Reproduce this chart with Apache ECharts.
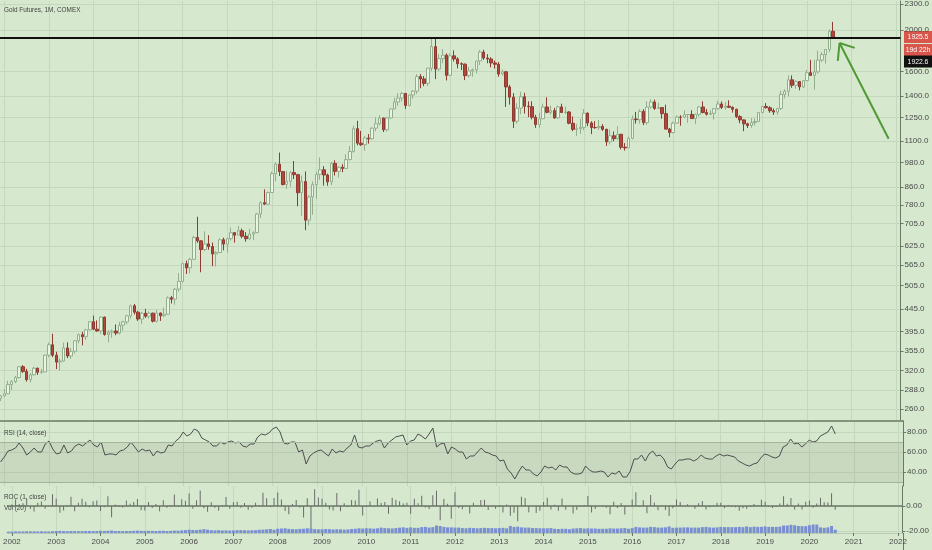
<!DOCTYPE html>
<html><head><meta charset="utf-8">
<script src="https://cdn.jsdelivr.net/npm/echarts@6/dist/echarts.min.js"></script>
<style>html,body{margin:0;padding:0;background:#d6e9cf}#c{width:932px;height:550px}</style>
</head><body><div id="c"></div>
<script>
// ---- data: monthly candles, Dec 2001 .. Aug 2020 ----
const startYear = 2001, startMonth = 12;
const open = [
275.5,
279.0,282.3,296.9,301.4,308.2,326.6,318.5,304.7,312.8,324.0,316.9,317.7,
347.6,367.5,347.5,334.9,336.8,361.4,346.0,354.8,375.6,388.0,383.8,398.4,
416.1,399.8,395.9,426.5,388.5,393.3,395.8,391.4,408.3,415.7,429.4,453.4,
438.0,422.2,435.5,428.6,435.7,417.3,436.1,429.7,433.3,473.2,469.9,495.7,
517.0,568.8,556.0,582.0,654.5,643.0,613.5,632.5,623.5,599.3,603.8,646.7,
632.0,650.5,672.0,663.0,679.0,659.1,650.5,666.9,672.0,743.0,789.5,783.5,
833.8,923.3,971.5,933.5,871.0,885.8,928.3,918.0,833.0,884.5,718.8,814.5,
869.8,919.5,942.5,916.5,883.3,975.5,934.5,955.5,949.5,995.8,1040.0,1175.8,
1087.5,1078.5,1118.3,1113.3,1179.3,1207.5,1245.5,1169.0,1246.0,1307.8,1357.6,1386.1,
1421.4,1332.8,1409.3,1439.0,1556.0,1536.6,1500.4,1628.3,1828.5,1620.4,1714.0,1746.4,
1566.8,1740.0,1711.3,1668.0,1664.0,1564.2,1604.2,1614.2,1692.6,1776.0,1719.4,1711.1,
1674.8,1663.0,1578.1,1597.0,1472.2,1393.0,1223.7,1313.3,1396.1,1327.0,1323.6,1250.6,
1202.3,1240.1,1321.6,1283.8,1295.9,1246.0,1322.0,1282.9,1286.5,1210.5,1171.6,1175.4,
1184.1,1278.5,1212.8,1183.1,1182.4,1189.4,1171.9,1095.4,1132.0,1114.0,1141.2,1064.2,
1060.3,1116.4,1238.8,1234.2,1290.5,1214.8,1320.6,1357.5,1311.4,1317.1,1274.9,1173.3,
1151.7,1211.7,1251.3,1251.2,1268.3,1268.9,1241.6,1270.1,1321.4,1283.1,1271.1,1276.7,
1309.3,1343.1,1318.3,1327.3,1319.2,1305.4,1254.5,1232.6,1206.7,1196.2,1214.8,1222.1,
1282.5,1325.2,1316.1,1295.4,1285.7,1311.1,1413.7,1437.8,1529.4,1485.3,1514.8,1472.8,
1523.1,1589.2,1566.7,1596.6,1700.9,1751.7,1800.5,1985.9
];
const high = [
280.5,
289.5,303.0,304.0,311.0,327.5,329.5,323.0,315.5,326.5,325.0,323.0,349.0,
372.0,390.0,354.0,341.0,372.0,372.5,361.0,377.0,390.5,394.0,400.5,417.0,
430.0,419.0,428.0,428.0,397.5,399.0,410.0,416.0,418.0,432.0,456.5,458.0,
441.0,438.5,446.0,440.0,437.0,443.5,437.0,449.0,477.0,478.0,499.0,541.0,
572.0,578.0,587.0,660.0,732.0,645.0,677.0,663.0,637.0,609.0,652.0,654.0,
654.0,691.0,674.0,697.0,687.0,674.0,686.0,677.0,747.0,795.0,848.0,838.0,
933.0,979.0,1033.9,935.0,937.0,937.0,988.0,922.0,914.0,934.0,823.0,885.0,
932.0,1007.0,961.0,923.0,983.0,992.0,960.0,971.0,1025.0,1072.0,1196.0,1227.0,
1162.0,1130.0,1142.0,1183.0,1250.0,1265.0,1248.0,1253.0,1310.0,1388.0,1424.0,1432.0,
1424.0,1415.0,1447.0,1577.0,1577.0,1560.0,1632.0,1911.6,1923.7,1755.0,1804.0,1764.0,
1764.0,1792.0,1727.0,1680.0,1670.0,1640.0,1628.0,1695.0,1795.0,1798.0,1756.0,1727.0,
1697.0,1684.0,1617.0,1605.0,1488.0,1424.0,1348.0,1434.0,1426.0,1362.0,1362.0,1267.0,
1280.0,1345.0,1392.0,1331.0,1315.0,1332.0,1345.0,1325.0,1292.0,1256.0,1207.0,1239.0,
1307.0,1284.0,1224.0,1225.0,1233.0,1205.0,1175.0,1171.0,1159.0,1191.0,1142.0,1088.0,
1127.0,1263.0,1287.0,1306.0,1306.0,1362.0,1377.0,1375.0,1352.0,1318.0,1338.0,1180.0,
1222.0,1264.0,1264.0,1297.0,1272.0,1298.0,1276.0,1327.0,1362.0,1307.0,1299.0,1312.0,
1366.0,1361.0,1356.0,1370.0,1326.0,1309.0,1265.0,1237.0,1214.0,1245.0,1243.0,1286.0,
1330.0,1349.0,1327.0,1311.0,1315.0,1442.0,1453.0,1566.0,1566.0,1526.0,1519.0,1525.0,
1613.0,1703.0,1704.0,1788.0,1775.0,1802.0,2005.0,2089.2
];
const low = [
271.5,
277.5,282.0,288.0,299.0,306.5,316.0,301.5,300.0,311.5,312.5,314.5,317.0,
343.5,344.0,322.5,319.5,335.5,342.0,340.5,350.5,370.5,366.5,377.0,397.0,
398.0,394.5,389.5,386.0,372.5,382.0,387.0,388.5,396.5,410.5,423.0,432.5,
418.0,411.5,424.5,423.0,414.5,414.0,418.0,426.5,433.0,459.0,456.0,489.0,
513.5,538.0,540.0,580.0,636.0,543.0,608.0,613.0,561.0,560.0,602.0,611.0,
603.0,644.0,637.0,662.0,652.0,640.0,646.0,645.0,670.0,727.0,780.0,782.0,
833.0,886.0,912.0,866.0,850.0,860.0,897.0,775.0,736.0,681.0,699.0,740.0,
806.0,893.0,866.0,865.0,868.0,914.0,904.0,930.0,948.0,990.0,1033.0,1075.0,
1072.0,1044.0,1085.0,1109.0,1160.0,1198.0,1155.0,1158.0,1242.0,1305.0,1331.0,1360.0,
1308.0,1325.0,1381.0,1417.0,1462.0,1478.0,1478.0,1603.0,1535.0,1602.0,1671.0,1523.9,
1563.0,1688.0,1627.0,1612.0,1527.0,1548.0,1555.0,1583.0,1656.0,1703.0,1672.0,1636.0,
1625.0,1555.0,1565.0,1321.5,1338.0,1180.0,1208.0,1271.0,1276.0,1251.0,1236.0,1181.0,
1182.0,1238.0,1277.0,1268.0,1240.0,1240.0,1281.0,1273.0,1204.0,1160.0,1131.0,1142.0,
1167.0,1191.0,1142.0,1175.0,1169.0,1162.0,1072.0,1080.0,1098.0,1107.0,1052.0,1045.0,
1060.0,1110.0,1208.0,1208.0,1199.0,1200.0,1310.0,1301.0,1306.0,1241.0,1171.0,1123.0,
1146.0,1208.0,1195.0,1244.0,1214.0,1240.0,1205.0,1256.0,1277.0,1262.0,1264.0,1236.0,
1303.0,1307.0,1303.0,1315.0,1282.0,1245.0,1211.0,1160.0,1180.0,1182.0,1196.0,1221.0,
1277.0,1311.0,1281.0,1266.0,1267.0,1300.0,1384.0,1400.0,1465.0,1459.0,1445.0,1462.0,
1519.0,1561.0,1451.0,1583.0,1683.0,1670.0,1776.0,1911.0
];
const close = [
279.0,
282.3,296.9,301.4,308.2,326.6,318.5,304.7,312.8,324.0,316.9,317.7,347.6,
367.5,347.5,334.9,336.8,361.4,346.0,354.8,375.6,388.0,383.8,398.4,416.1,
399.8,395.9,426.5,388.5,393.3,395.8,391.4,408.3,415.7,429.4,453.4,438.0,
422.2,435.5,428.6,435.7,417.3,436.1,429.7,433.3,473.2,469.9,495.7,517.0,
568.8,556.0,582.0,654.5,643.0,613.5,632.5,623.5,599.3,603.8,646.7,632.0,
650.5,672.0,663.0,679.0,659.1,650.5,666.9,672.0,743.0,789.5,783.5,833.8,
923.3,971.5,933.5,871.0,885.8,928.3,918.0,833.0,884.5,718.8,814.5,869.8,
919.5,942.5,916.5,883.3,975.5,934.5,955.5,949.5,995.8,1040.0,1175.8,1087.5,
1078.5,1118.3,1113.3,1179.3,1207.5,1245.5,1169.0,1246.0,1307.8,1357.6,1386.1,1421.4,
1332.8,1409.3,1439.0,1556.0,1536.6,1500.4,1628.3,1828.5,1620.4,1714.0,1746.4,1566.8,
1740.0,1711.3,1668.0,1664.0,1564.2,1604.2,1614.2,1692.6,1776.0,1719.4,1711.1,1674.8,
1663.0,1578.1,1597.0,1472.2,1393.0,1223.7,1313.3,1396.1,1327.0,1323.6,1250.6,1202.3,
1240.1,1321.6,1283.8,1295.9,1246.0,1322.0,1282.9,1286.5,1210.5,1171.6,1175.4,1184.1,
1278.5,1212.8,1183.1,1182.4,1189.4,1171.9,1095.4,1132.0,1114.0,1141.2,1064.2,1060.3,
1116.4,1238.8,1234.2,1290.5,1214.8,1320.6,1357.5,1311.4,1317.1,1274.9,1173.3,1151.7,
1211.7,1251.3,1251.2,1268.3,1268.9,1241.6,1270.1,1321.4,1283.1,1271.1,1276.7,1309.3,
1343.1,1318.3,1327.3,1319.2,1305.4,1254.5,1232.6,1206.7,1196.2,1214.8,1222.1,1282.5,
1325.2,1316.1,1295.4,1285.7,1311.1,1413.7,1437.8,1529.4,1485.3,1514.8,1472.8,1523.1,
1589.2,1566.7,1596.6,1700.9,1751.7,1800.5,1985.9,1925.5
];
const volume = [
250,
280,320,300,310,360,330,320,300,330,310,290,350,
420,450,400,360,420,400,380,400,430,420,410,440,
480,450,470,520,430,420,400,430,440,470,500,460,
450,470,450,430,460,480,430,450,520,500,560,620,
700,650,620,720,820,700,600,560,600,540,560,520,
560,600,620,580,560,580,600,700,720,780,850,700,
900,950,1000,880,820,800,880,900,1000,950,820,780,
800,850,820,760,800,780,720,760,860,900,1000,950,
1000,980,920,1000,1150,1050,1000,980,1050,1150,1200,1100,
1200,1100,1100,1250,1300,1150,1250,1600,1500,1300,1200,1200,
1150,1150,1050,1000,1100,1050,1000,1050,1100,1050,1050,1000,
1050,1100,1000,1500,1300,1350,1200,1150,1150,1050,1050,1000,
1000,1000,1050,900,850,900,900,800,950,1000,1050,950,
1000,950,950,900,900,900,1000,950,950,1000,1050,900,
1050,1300,1200,1150,1150,1300,1250,1150,1150,1200,1400,1100,
1150,1150,1200,1200,1150,1150,1150,1250,1300,1200,1150,1200,
1300,1250,1250,1250,1250,1300,1250,1400,1250,1350,1300,1300,
1400,1300,1300,1300,1350,1600,1600,1750,1650,1500,1450,1450,
1650,1800,1800,1200,1100,1200,1500,700
];
const rsi = [
50,
55,61,62,64,69,64,57,60,64,60,60,68,
71,63,58,59,67,59,61,66,68,66,69,72,
67,65,70,57,58,58,57,61,62,65,70,65,
60,63,61,62,56,61,59,60,67,66,71,74,
80,76,78,83,81,74,72,70,66,66,70,68,
70,71,69,70,66,65,68,68,75,78,77,79,
83,85,80,69,68,70,70,60,62,48,56,59,
61,62,59,56,63,59,61,60,64,67,77,65,
64,66,66,69,71,72,64,69,72,75,76,77,
67,71,72,78,76,73,78,84,65,68,69,58,
65,63,60,60,53,56,56,60,64,60,59,57,
56,51,52,43,39,33,40,46,42,42,38,36,
40,46,44,45,42,47,45,45,40,38,38,39,
46,42,40,40,41,40,35,39,38,41,35,35,
41,53,53,57,51,58,61,56,57,53,45,43,
48,52,52,53,53,51,53,57,54,53,53,56,
58,56,57,56,55,51,49,47,46,48,49,54,
58,57,55,54,56,65,67,73,68,69,65,68,
72,70,71,76,78,80,86,78
];
// axis ticks
const priceTicks = [260,288,320,355,395,445,505,565,625,705,780,860,980,1100,1250,1400,1600,2000,2300];
const rsiTicks = [40,60,80];
const rocTicks = [-20,0];
const yearTicks = [2002,2003,2004,2005,2006,2007,2008,2009,2010,2011,2012,2013,2014,2015,2016,2017,2018,2019,2020,2021,2022];
// annotations
const hLevel = 1922.6;
const lastPrice = 1925.5;
const countdown = '19d 22h';
const arrowTail = [2021.83, 1114];
const arrowTip = [2020.73, 1865];
const arrowArmA = [2021.07, 1816];
const arrowArmB = [2020.69, 1693];

// ---- build ----
const FONT = "'Liberation Sans',Arial,sans-serif";
const TXT = '#4a4a4a', GRIDC = '#c4d8be', SEP = '#6a7866';
const X_MIN = 2001.904, X_MAX = 2022.097;
const monthX = close.map((_, i) => startYear + (startMonth - 1 + i) / 12);
const candles = monthX.map((x, i) => [x, open[i], close[i], low[i], high[i]]);
const rocData = monthX.map((x, i) => [x, i === 0 ? null : (close[i] - close[i-1]) / close[i-1] * 100]);
const volData = monthX.map((x, i) => [x, volume[i]]);
const rsiData = monthX.map((x, i) => [x, rsi[i]]);

const xBase = (grid, extra) => Object.assign({
  type: 'value', gridIndex: grid, min: X_MIN, max: X_MAX,
  axisLine: {show: false}, axisTick: {show: false, customValues: yearTicks},
  axisLabel: {show: false, customValues: yearTicks},
  splitLine: {show: true, lineStyle: {color: GRIDC, width: 1}}
}, extra || {});

const greenLine = {color: '#4f9a35', width: 2, type: 'solid'};
const chart = echarts.init(document.getElementById('c'));
chart.setOption({
  animation: false,
  backgroundColor: '#d6e9cf',
  grid: [
    {left: 0, right: 29, top: 0, height: 420},
    {left: 0, right: 29, top: 421, height: 65},
    {left: 0, right: 29, top: 486, height: 47}
  ],
  xAxis: [
    xBase(0),
    xBase(1, {position: 'top', axisLine: {show: true, lineStyle: {color: SEP, width: 1.5}}}),
    xBase(2, {position: 'top', axisLine: {show: true, lineStyle: {color: SEP, width: 1.5}}}),
    xBase(2, {position: 'bottom', splitLine: {show: false},
      axisLine: {show: true, lineStyle: {color: '#b9cab4', width: 1}},
      axisTick: {show: true, length: 3, customValues: yearTicks, lineStyle: {color: SEP}},
      axisLabel: {show: true, customValues: yearTicks, color: TXT, fontSize: 8, fontFamily: FONT, margin: 5,
        alignMinLabel: 'center', alignMaxLabel: 'center',
        formatter: v => String(Math.round(v))}})
  ],
  yAxis: [
    {type: 'log', gridIndex: 0, position: 'right', min: 245.2, max: 2337,
      axisLine: {show: true, lineStyle: {color: SEP, width: 1}},
      axisTick: {show: true, length: 3, customValues: priceTicks, lineStyle: {color: SEP}},
      axisLabel: {customValues: priceTicks, color: TXT, fontSize: 8, fontFamily: FONT, margin: 4,
        formatter: v => Number(v).toFixed(1)},
      splitLine: {show: true, lineStyle: {color: GRIDC, width: 1}}},
    {type: 'value', gridIndex: 1, position: 'right', min: 26, max: 91,
      axisLine: {show: true, lineStyle: {color: SEP, width: 1}},
      axisTick: {show: true, length: 3, customValues: rsiTicks, lineStyle: {color: SEP}},
      axisLabel: {customValues: rsiTicks, color: TXT, fontSize: 8, fontFamily: FONT, margin: 4,
        formatter: v => Number(v).toFixed(2)},
      splitLine: {show: true, lineStyle: {color: GRIDC, width: 1}}},
    {type: 'value', gridIndex: 2, position: 'right', min: -21.6, max: 16,
      axisLine: {show: true, lineStyle: {color: SEP, width: 1}},
      axisTick: {show: true, length: 3, customValues: rocTicks, lineStyle: {color: SEP}},
      axisLabel: {customValues: rocTicks, color: TXT, fontSize: 8, fontFamily: FONT, margin: 4,
        formatter: v => Number(v).toFixed(2)},
      splitLine: {show: true, lineStyle: {color: GRIDC, width: 1}}},
    {type: 'value', gridIndex: 2, min: 0, max: 10000, show: false}
  ],
  series: [
    {type: 'candlestick', xAxisIndex: 0, yAxisIndex: 0, data: candles, barWidth: 3,
      itemStyle: {color: '#eaf4e5', color0: '#b3463b', borderColor: '#93ae8c', borderColor0: '#8f3b31', borderWidth: 1},
      markLine: {silent: true, symbol: 'none', label: {show: false},
        data: [
          {yAxis: hLevel, lineStyle: {color: '#111111', width: 2, type: 'solid'}},
          [{coord: arrowTail, lineStyle: greenLine}, {coord: arrowTip, lineStyle: greenLine}],
          [{coord: arrowTip, lineStyle: greenLine}, {coord: arrowArmA, lineStyle: greenLine}],
          [{coord: arrowTip, lineStyle: greenLine}, {coord: arrowArmB, lineStyle: greenLine}]
        ]}},
    {type: 'line', xAxisIndex: 1, yAxisIndex: 1, data: rsiData, showSymbol: false, symbol: 'none',
      lineStyle: {color: '#4d4d4d', width: 1},
      markArea: {silent: true, itemStyle: {color: 'rgba(95,110,90,0.12)'}, data: [[{yAxis: 70}, {yAxis: 30}]]},
      markLine: {silent: true, symbol: 'none', label: {show: false},
        lineStyle: {color: '#a3b39e', width: 1, type: 'solid'}, data: [{yAxis: 70}, {yAxis: 30}]}},
    {type: 'bar', xAxisIndex: 2, yAxisIndex: 2, data: rocData, barWidth: 1,
      itemStyle: {color: '#6b6b6b'}},
    {type: 'bar', xAxisIndex: 3, yAxisIndex: 3, data: volData, barWidth: 3,
      itemStyle: {color: '#7a8fd2'}}
  ]
});

const yLast = chart.convertToPixel({yAxisIndex: 0}, lastPrice);
const box = (y, fill, text) => ({type: 'group', children: [
  {type: 'rect', shape: {x: 904, y: y - 6, width: 28, height: 12}, style: {fill: fill}},
  {type: 'text', x: 918, y: y, scaleX: 0.85, style: {text: text, fill: '#ffffff', font: "8px " + FONT, align: 'center', verticalAlign: 'middle'}}
]});
const label = (x, y, text) => ({type: 'text', x: x, y: y, scaleX: 0.8, style: {text: text, fill: '#3e3e3e', font: "8px " + FONT, verticalAlign: 'middle'}});
chart.setOption({graphic: [
  label(4, 10, 'Gold Futures, 1M, COMEX'),
  label(4, 433, 'RSI (14, close)'),
  label(4, 497, 'ROC (1, close)'),
  label(4, 508, 'Vol (20)'),
  box(yLast, '#d8564b', lastPrice.toFixed(1)),
  box(yLast + 13, '#d8564b', countdown),
  box(yLast + 24.5, '#111111', hLevel.toFixed(1)),
  {type: 'line', shape: {x1: 903.5, y1: 533, x2: 903.5, y2: 550}, style: {stroke: SEP, lineWidth: 1}}
]});
</script></body></html>
